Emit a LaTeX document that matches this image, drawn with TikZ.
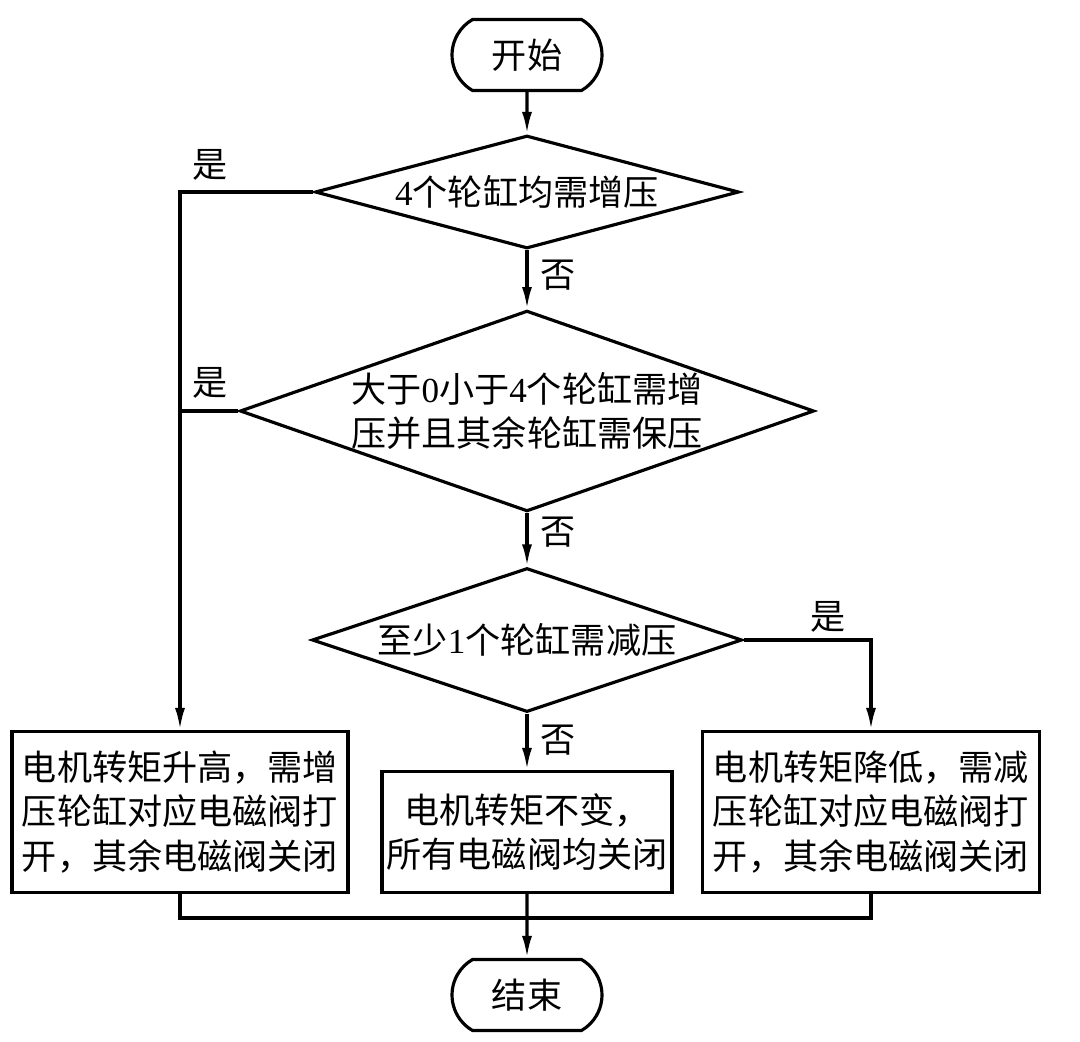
\documentclass[tikz,border=0pt]{standalone}
\usepackage{fontspec}
\setmainfont{Noto Sans CJK SC}
\newfontfamily\numfont{Liberation Serif}
\usetikzlibrary{shapes.geometric,shapes.misc,arrows.meta}
\tikzset{
  every node/.style={font=\fontsize{20}{25.5}\selectfont},
  terminal/.style={draw, rounded rectangle, rounded rectangle arc length=120, minimum width=3cm, minimum height=1.42cm, inner sep=0pt},
  decision/.style={draw, diamond, inner sep=0pt, align=center},
  action/.style={draw, rectangle, inner sep=0pt, align=center},
  flow/.style={line width=1.8pt, -{Latex[length=0.44cm,width=0.2cm]}},
  plain/.style={line width=1.8pt},
  answer/.style={inner sep=0pt}
}
\begin{document}
\begin{tikzpicture}[x=0.02cm,y=-0.02cm,line width=1.8pt]
\useasboundingbox (0,0) rectangle (1080,1042);
\node[terminal] (start) at (527,55) {开始};
\node[decision, aspect=3.75, minimum width=8.48cm, minimum height=2.26cm] (chkAll) at (527,192) {{\numfont 4}个轮缸均需增压};
\node[decision, aspect=2.86, minimum width=11.34cm, minimum height=3.96cm] (chkPart) at (527,411) {大于{\numfont 0}小于{\numfont 4}个轮缸需增\\压并且其余轮缸需保压};
\node[decision, aspect=2.99, minimum width=8.6cm, minimum height=2.88cm] (chkDec) at (527,640) {至少{\numfont 1}个轮缸需减压};
\node[action, minimum width=6.72cm, minimum height=3.22cm] (boxInc) at (180,812) {电机转矩升高，需增\\压轮缸对应电磁阀打\\开，其余电磁阀关闭};
\node[action, minimum width=5.8cm, minimum height=2.42cm] (boxHold) at (527,832) {电机转矩不变，\\所有电磁阀均关闭};
\node[action, minimum width=6.74cm, minimum height=3.22cm] (boxDec) at (871,812) {电机转矩降低，需减\\压轮缸对应电磁阀打\\开，其余电磁阀关闭};
\node[terminal] (stop) at (527,995) {结束};
\coordinate (merge) at (527,918);
\draw[flow] (start) -- (chkAll);
\draw[flow] (chkAll) -- (chkPart);
\draw[flow] (chkPart) -- (chkDec);
\draw[flow] (chkDec) -- (boxHold);
\draw[flow] (chkAll.west) -| (boxInc.north);
\draw[plain] (chkPart.west) -- (chkPart.west -| boxInc.north);
\draw[flow] (chkDec.east) -| (boxDec.north);
\draw[plain] (boxInc.south) |- (merge);
\draw[plain] (boxDec.south) |- (merge);
\draw[flow] (boxHold) -- (stop);
\node[answer] (yesAll) at (210,165) {是};
\node[answer] (yesPart) at (210,383) {是};
\node[answer] (yesDec) at (828,617) {是};
\node[answer] (noAll) at (558,275) {否};
\node[answer] (noPart) at (558,532) {否};
\node[answer] (noDec) at (558,740) {否};
\end{tikzpicture}
\end{document}
